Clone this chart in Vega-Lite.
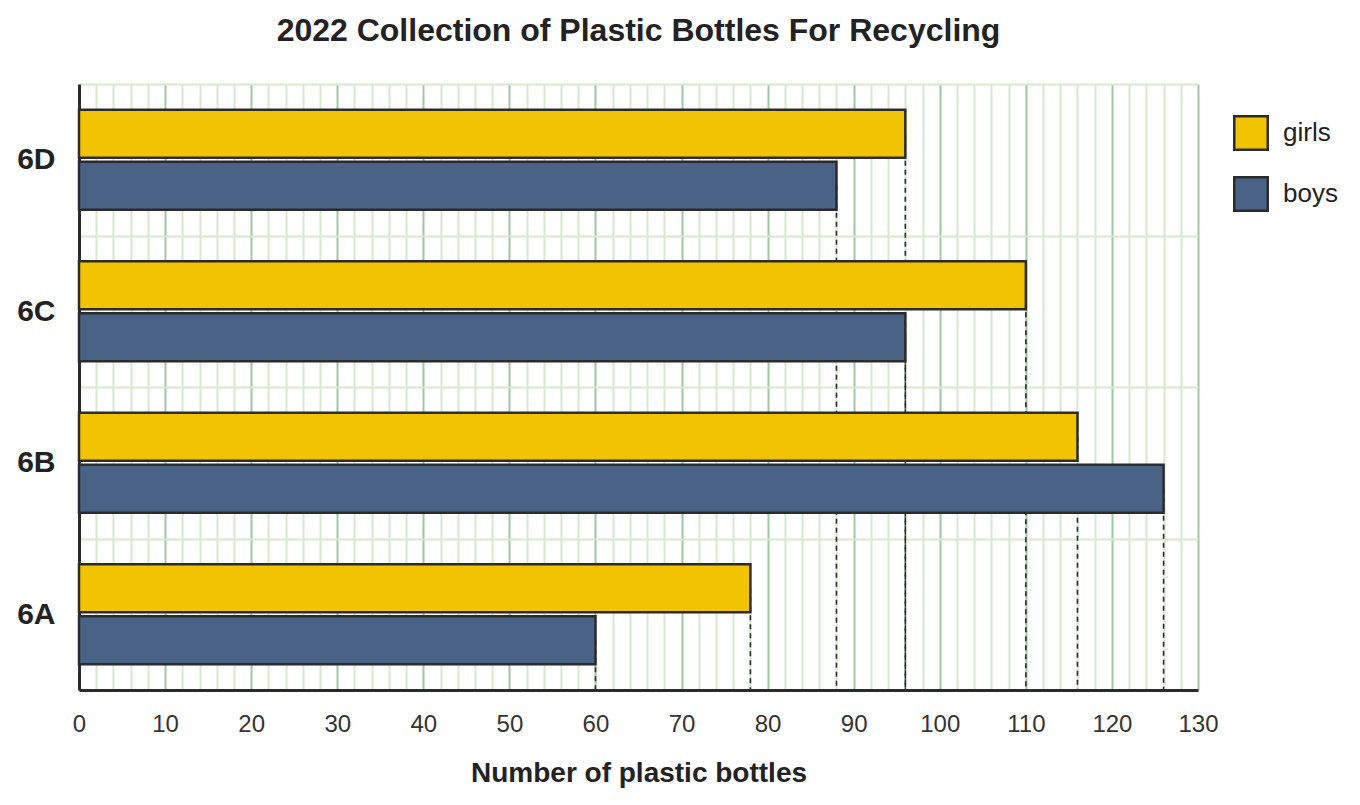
{
  "$schema": "https://vega.github.io/schema/vega-lite/v6.json",
  "width": 1119,
  "height": 606,
  "autosize": {"type": "none"},
  "padding": {"left": 79, "top": 84, "right": 162, "bottom": 115},
  "background": "white",
  "title": {"text": "2022 Collection of Plastic Bottles For Recycling", "fontSize": 32, "font": "Liberation Sans", "fontWeight": "bold", "color": "#222222", "anchor": "middle", "offset": 21},
  "data": {"values": [
    {"class": "6D", "gender": "girls", "bottles": 96},
    {"class": "6D", "gender": "boys", "bottles": 88},
    {"class": "6C", "gender": "girls", "bottles": 110},
    {"class": "6C", "gender": "boys", "bottles": 96},
    {"class": "6B", "gender": "girls", "bottles": 116},
    {"class": "6B", "gender": "boys", "bottles": 126},
    {"class": "6A", "gender": "girls", "bottles": 78},
    {"class": "6A", "gender": "boys", "bottles": 60}
  ]},
  "encoding": {
    "y": {"field": "class", "type": "nominal", "sort": ["6D", "6C", "6B", "6A"],
      "scale": {"paddingInner": 0, "paddingOuter": 0},
      "axis": {"title": null, "domainColor": "#2b2b2b", "domainWidth": 3, "ticks": false, "tickBand": "extent", "grid": true, "gridColor": "#d6e9cd", "gridWidth": 2, "labelFontSize": 30, "labelFontWeight": "bold", "labelFont": "Liberation Sans", "labelColor": "#222222", "labelPadding": 24}},
    "yOffset": {"field": "gender", "type": "nominal", "sort": ["girls", "boys"], "scale": {"paddingInner": 0.077, "paddingOuter": 0.495}},
    "x": {"field": "bottles", "type": "quantitative", "scale": {"domain": [0, 130], "nice": false},
      "axis": {"values": [0,2,4,6,8,10,12,14,16,18,20,22,24,26,28,30,32,34,36,38,40,42,44,46,48,50,52,54,56,58,60,62,64,66,68,70,72,74,76,78,80,82,84,86,88,90,92,94,96,98,100,102,104,106,108,110,112,114,116,118,120,122,124,126,128,130],
        "title": "Number of plastic bottles", "titleFont": "Liberation Sans", "titleFontSize": 28, "titleFontWeight": "bold", "titleColor": "#222222", "titlePadding": 23,
        "labelExpr": "datum.value % 10 === 0 ? datum.label : ''", "labelFont": "Liberation Sans", "labelFontSize": 24, "labelColor": "#333333", "labelPadding": 22, "labelOverlap": false, "labelFlush": false,
        "ticks": false, "grid": true,
        "gridColor": {"condition": {"test": "datum.value % 10 === 0", "value": "#a0c6a3"}, "value": "#d6e9cd"},
        "gridWidth": 2, "domainColor": "#2b2b2b", "domainWidth": 3}}
  },
  "layer": [
    {"mark": {"type": "rule", "strokeDash": [5, 4], "color": "#2b2b2b", "strokeWidth": 1.6},
     "encoding": {"y2": {"value": "height"}}},
    {"mark": {"type": "bar", "stroke": "#2b2b2b", "strokeWidth": 2.5},
     "encoding": {"color": {"field": "gender", "type": "nominal",
       "scale": {"domain": ["girls", "boys"], "range": ["#f2c300", "#4a6285"]},
       "legend": {"title": null, "orient": "none", "legendX": 1154, "legendY": 31, "symbolType": "square", "symbolSize": 1120, "symbolStrokeColor": "#2b2b2b", "symbolStrokeWidth": 2.5, "symbolOpacity": 1, "labelFontSize": 26, "labelFont": "Liberation Sans", "labelColor": "#222222", "rowPadding": 17, "labelOffset": 14}}}}
  ]
}
